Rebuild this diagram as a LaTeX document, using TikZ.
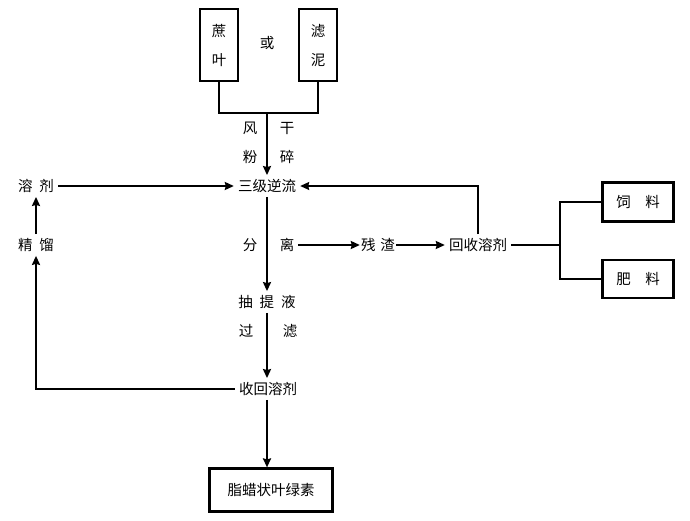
\documentclass[tikz,border=0pt]{standalone}
\usepackage{fontspec}
\newfontfamily\cjk{Noto Sans CJK SC}
\usetikzlibrary{arrows.meta}

\begin{document}
\begin{tikzpicture}[
    x = 1pt, y = -1pt, % pixel-like units
    > = {Stealth[length=9pt, width=8pt, inset=1pt]}, % arrow head style
    thick line/.style = {line width=2.2pt},
    thin line/.style = {line width=1.4pt},
    every node/.style = {font=\cjk\fontsize{14.5}{17}\selectfont, inner sep=4pt}
]
\tikzstyle{box}=[
    draw = black,
    line width = 2.2pt,
    inner sep = 0pt
]
\tikzstyle{tall box}=[
    box,
    minimum width = 38pt,
    minimum height = 72pt,
    align = center,
    font = \cjk\fontsize{14.5}{29}\selectfont
]

\useasboundingbox (0,0) rectangle (690,520);

% raw material
\node[tall box] (zheye) at (219,45) {蔗\\叶};
\node[tall box] (luni) at (318,45) {滤\\泥};
\node (huo) at (267,43) {或};
\coordinate (join) at (267,113);
\node (feng) at (250,128) {风};
\node (gan) at (287,128) {干};
\node (fen) at (250,157) {粉};
\node (sui) at (287,157) {碎};

% extraction
\node (sanji) at (267,186) {三级逆流};
\node (rongji) at (36,186) {溶\hspace{7pt}剂};
\node (jingliu) at (36,245) {精\hspace{7pt}馏};
\node (fenli) at (250,245) {分};
\node (li) at (287,245) {离};
\node[inner sep=1pt] (canzha) at (378,245) {残\hspace{5pt}渣};
\node (huishou) at (478,245) {回收溶剂};
\coordinate (fork) at (560,245);
\node[box, minimum width=71pt, minimum height=39pt] (siliao) at (638,202) {饲\quad 料};
\node[box, minimum width=71pt, minimum height=38pt] (feiliao) at (638,279) {肥\quad 料};

% filtrate
\node (chouti) at (267,302) {抽\hspace{7pt}提\hspace{7pt}液};
\node (guo) at (246,331) {过};
\node (lu) at (290,331) {滤};
\node (shouhui) at (268,389) {收回溶剂};
\node[box, minimum width=123pt, minimum height=43pt] (zhila) at (271,490) {脂蜡状叶绿素};

\draw[thin line] (zheye) -- (zheye |- join) -- (luni |- join) -- (luni);
\draw[->, thick line] (join) -- (sanji);
\draw[->, thick line] (rongji) -- (sanji);
\draw[->, thick line] (jingliu) -- (rongji);
\draw[->, thick line] (sanji) -- (chouti);
\draw[->, thick line] (li) -- (canzha);
\draw[->, thick line] (canzha) -- (huishou);
\draw[->, thin line] (huishou) |- (sanji);
\draw[thick line] (huishou) -- (fork);
\draw[thick line] (siliao) -| (fork) |- (feiliao);
\draw[->, thick line] (chouti.south) -- (chouti.south |- shouhui.north);
\draw[->, thick line] (shouhui) -| (jingliu);
\draw[->, thick line] (shouhui.south -| chouti) -- (chouti |- zhila.north);

\end{tikzpicture}
\end{document}
